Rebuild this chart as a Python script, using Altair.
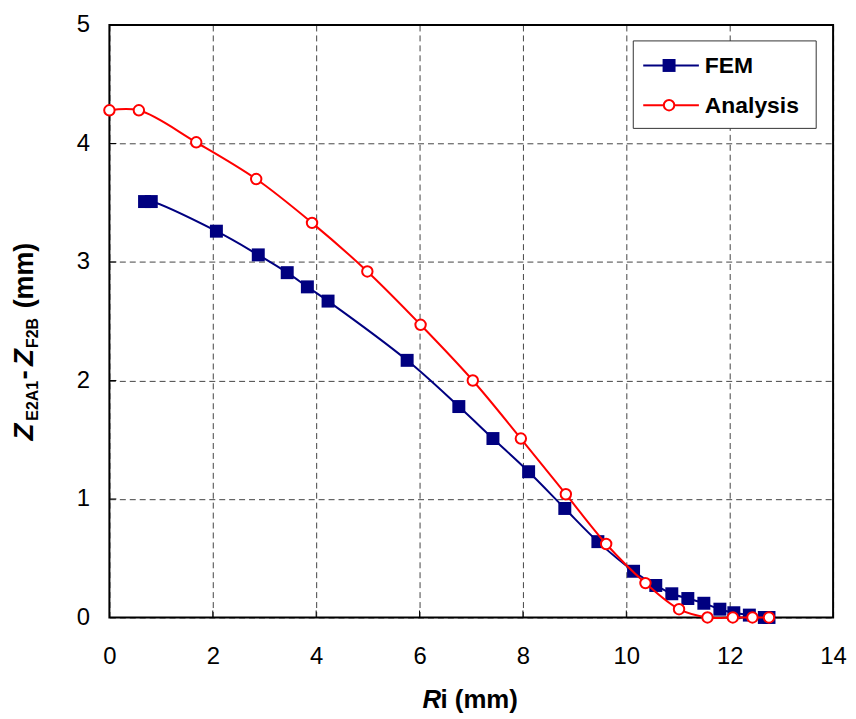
import altair as alt
import pandas as pd

# ---- data ----
fem_x = [0.68, 0.81, 2.07, 2.88, 3.44, 3.83, 4.23, 5.76, 6.76, 7.42, 8.11, 8.81,
         9.45, 10.14, 10.57, 10.88, 11.19, 11.50, 11.81, 12.08, 12.38, 12.67, 12.76]
fem_y = [3.51, 3.51, 3.26, 3.06, 2.91, 2.79, 2.67, 2.17, 1.78, 1.51, 1.23, 0.92,
         0.64, 0.39, 0.27, 0.20, 0.16, 0.12, 0.07, 0.04, 0.02, 0.0, 0.0]
an_x = [0.0, 0.57, 1.68, 2.84, 3.92, 4.99, 6.02, 7.03, 7.96, 8.83, 9.61, 10.37,
        11.02, 11.57, 12.06, 12.44, 12.76]
an_y = [4.28, 4.28, 4.01, 3.70, 3.33, 2.92, 2.47, 2.00, 1.51, 1.04, 0.62, 0.29,
        0.07, 0.0, 0.0, 0.0, 0.0]
x_ticks = [0, 2, 4, 6, 8, 10, 12, 14]
y_ticks = [0, 1, 2, 3, 4, 5]
x_inner = [2, 4, 6, 8, 10, 12]
y_inner = [1, 2, 3, 4]
series = ["FEM", "Analysis"]

W, H = 728, 596
FONT = "Liberation Sans, Arial, sans-serif"
NAVY = "#000080"
RED = "#FF0000"

df_fem = pd.DataFrame({"x": fem_x, "y": fem_y})
df_an = pd.DataFrame({"x": an_x, "y": an_y})

sx = alt.Scale(domain=[0, 14], nice=False, zero=False)
sy = alt.Scale(domain=[0, 5], nice=False, zero=False)
ax_x = alt.Axis(values=x_ticks, grid=True, gridDash=[6, 4], gridColor="#444444",
                gridWidth=1, domain=False, ticks=False, labelFontSize=24,
                labelFont=FONT, labelColor="black", labelPadding=27, title=None,
                labelFlush=False)
ax_y = alt.Axis(values=y_ticks, grid=True, gridDash=[6, 4], gridColor="#444444",
                gridWidth=1, domain=False, ticks=False, labelFontSize=24,
                labelFont=FONT, labelColor="black", labelPadding=20, title=None,
                labelFlush=False)
X = alt.X("x:Q", scale=sx, axis=ax_x)
Y = alt.Y("y:Q", scale=sy, axis=ax_y)

one = alt.Data(values=[{"k": 0}])

frame = alt.Chart(one).mark_rect(fillOpacity=0, stroke="black", strokeWidth=2).encode(
    x=alt.value(0), x2=alt.value(W), y=alt.value(0), y2=alt.value(H))

xt = alt.Chart(pd.DataFrame({"x": x_inner})).mark_rule(color="black", strokeWidth=1).encode(
    x=X, y=alt.value(H), y2=alt.value(H - 7))
yt = alt.Chart(pd.DataFrame({"y": y_inner})).mark_rule(color="black", strokeWidth=1).encode(
    y=Y, x=alt.value(0), x2=alt.value(7))

fem_line = alt.Chart(df_fem).mark_line(color=NAVY, strokeWidth=2,
                                        interpolate="catmull-rom").encode(x=X, y=Y)
fem_pts = alt.Chart(df_fem).mark_point(shape="square", filled=True, color=NAVY,
                                       size=170, opacity=1).encode(x=X, y=Y)
an_line = alt.Chart(df_an).mark_line(color=RED, strokeWidth=2,
                                      interpolate="catmull-rom").encode(x=X, y=Y)
an_pts = alt.Chart(df_an).mark_point(shape="circle", filled=False, fill="white",
                                     color=RED, stroke=RED, strokeWidth=2,
                                     size=110, opacity=1).encode(x=X, y=Y)

# ---- custom legend ----
LX0, LX1, LY0, LY1 = 527, 711, 16, 104
ROW = [40.7, 80.7]
leg_box = alt.Chart(one).mark_rect(fill="white", stroke="#333333", strokeWidth=1).encode(
    x=alt.value(LX0), x2=alt.value(LX1), y=alt.value(LY0), y2=alt.value(LY1))
leg = [leg_box]
for i, (name, col) in enumerate(zip(series, [NAVY, RED])):
    leg.append(alt.Chart(one).mark_rule(color=col, strokeWidth=2).encode(
        x=alt.value(537), x2=alt.value(593), y=alt.value(ROW[i])))
    if i == 0:
        leg.append(alt.Chart(one).mark_point(shape="square", filled=True, color=col,
                                             size=170, opacity=1).encode(
            x=alt.value(563), y=alt.value(ROW[i])))
    else:
        leg.append(alt.Chart(one).mark_point(shape="circle", filled=False, fill="white",
                                             stroke=col, strokeWidth=2, size=110,
                                             opacity=1).encode(
            x=alt.value(563), y=alt.value(ROW[i])))
    leg.append(alt.Chart(one).mark_text(text=name, font=FONT, fontSize=23,
                                        fontWeight="bold", align="left",
                                        baseline="middle", color="black").encode(
        x=alt.value(599), y=alt.value(ROW[i] + 1)))

# ---- axis titles (with italics and subscripts) ----
def txt(s, x, y, size, italic=False, angle=0, align="left"):
    kw = dict(text=s, font=FONT, fontSize=size, fontWeight="bold", align=align,
              baseline="alphabetic", color="black")
    if italic:
        kw["fontStyle"] = "italic"
    if angle:
        kw["angle"] = angle
    return alt.Chart(one).mark_text(**kw).encode(x=alt.value(x), y=alt.value(y))

TB = -76.5
titles = [
    txt("R", 315, 687.5, 26, italic=True),
    txt("i (mm)", 333, 687.5, 26),
    txt("Z", TB, 418, 28, italic=True, angle=270),
    txt("E2A1", TB + 4.5, 398, 16, angle=270),
    txt("-", TB, 352, 28, angle=270, align="center"),
    txt("Z", TB, 343, 28, italic=True, angle=270),
    txt("F2B", TB + 4.5, 325, 16, angle=270),
    txt("(mm)", TB, 285, 27, angle=270),
]

chart = alt.layer(frame, xt, yt, fem_line, fem_pts, an_line, an_pts, *leg, *titles).properties(
    width=W, height=H, autosize="none",
    padding={"left": 102, "top": 15, "right": 15, "bottom": 96},
    background="white",
).configure_view(stroke=None)

chart.save("out.html", embed_options={"renderer": "svg", "actions": False})
